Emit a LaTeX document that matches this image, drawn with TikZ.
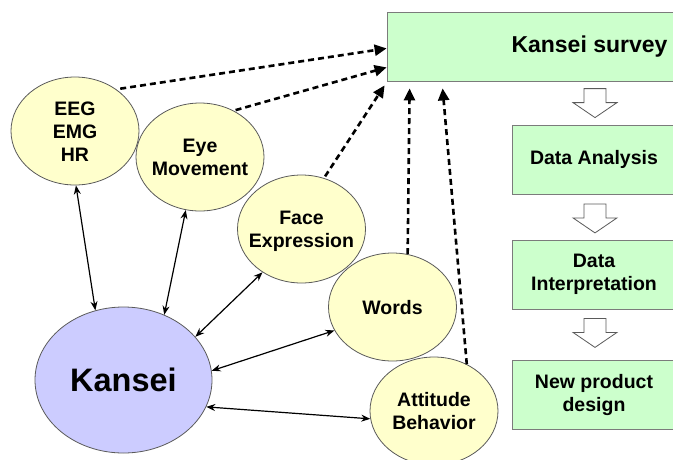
\documentclass[tikz,border=0pt]{standalone}
\usepackage{fontspec}
\setmainfont{Liberation Sans}
\usetikzlibrary{shapes.geometric,arrows.meta,calc}
\definecolor{bubble}{HTML}{FFFFCC}
\definecolor{kansei}{HTML}{CCCCFF}
\definecolor{boxgreen}{HTML}{CCFFCC}
\definecolor{edge}{HTML}{5A5A5A}
\newcommand{\btext}[1]{\makebox[0pt][c]{\raisebox{-2.5pt}[\height][\depth]{\begin{tabular}{@{}c@{}}#1\end{tabular}}}}
\begin{document}
\begin{tikzpicture}[x=1pt,y=-1pt,
  bubblenode/.style={ellipse, draw=edge, line width=0.8pt, fill=bubble, minimum width=128pt, minimum height=108pt, inner sep=0pt, font=\fontsize{19.5}{23}\bfseries},
  kanseinode/.style={ellipse, draw=edge, line width=0.8pt, fill=kansei, minimum width=177pt, minimum height=146pt, inner sep=0pt, font=\fontsize{32.5}{36}\bfseries},
  stagebox/.style={rectangle, draw=edge!80, line width=0.8pt, fill=boxgreen, minimum width=164pt, minimum height=69pt, inner sep=0pt, align=center, font=\fontsize{19.5}{23}\bfseries},
  twoway/.style={{Stealth[length=9pt,width=7pt]}-{Stealth[length=9pt,width=7pt]}, line width=1.2pt},
  survey/.style={-{Triangle[length=12pt,width=11pt]}, line width=2.6pt, dash pattern=on 6pt off 4pt},
  hollow/.style={draw=edge, line width=0.8pt, fill=white, line join=miter}
]
\useasboundingbox (0,0) rectangle (673,459);
\clip (0,0) rectangle (673,459);

% right column boxes
\node[stagebox, minimum width=405pt, font=\fontsize{23}{26}\bfseries] (survey) at (589.5,46.5) {Kansei survey};
\node[stagebox] (analysis) at (594,159.5) {Data Analysis};
\node[stagebox] (interp) at (594,274.5) {Data\\Interpretation};
\node[stagebox] (newp) at (594,395) {New product\\design};

% hollow arrows between stages
\newcommand{\harrow}[1]{\path[hollow] ($(#1)+(-11,0)$) -- ++(22,0) -- ++(0,14) -- ++(11,0) -- ++(-22,15) -- ++(-22,-15) -- ++(11,0) -- cycle;}
\coordinate (h1) at ($(analysis.north)+(1,-36)$);
\coordinate (h2) at ($(analysis.south)+(1,9.5)$);
\coordinate (h3) at ($(interp.south)+(1,9)$);
\harrow{h1}
\harrow{h2}
\harrow{h3}

% ellipses
\node[bubblenode] (eeg) at (75,131) {\btext{EEG\\EMG\\HR}};
\node[bubblenode] (eye) at (200,157) {\btext{Eye\\Movement}};
\node[bubblenode] (face) at (301.5,229) {\btext{Face\\Expression}};
\node[bubblenode] (words) at (392.5,307) {\btext{Words}};
\node[bubblenode] (att) at (434,411) {\btext{Attitude\\Behavior}};
\node[kanseinode] (k) at (123.5,380) {\makebox[0pt][c]{Kansei}};

% two-way arrows
\draw[twoway] (eeg.-89) -- (k.112);
\draw[twoway] (eye.-105) -- (k.58);
\draw[twoway] (face.-132) -- (k.31);
\draw[twoway] (words.-158) -- (k.6);
\draw[twoway] (att.-173) -- (k.-18);

% dashed arrows to survey
\coordinate (s1) at ($(survey.south west)+(0,-33)$);
\coordinate (s2) at ($(survey.south west)+(0,-14)$);
\coordinate (s3) at ($(survey.south west)+(-2,4)$);
\coordinate (s4) at ($(survey.south west)+(23,7)$);
\coordinate (s5) at ($(survey.south west)+(56,7)$);
\draw[survey] ($(eeg.43)+(2,-2)$) -- (s1);
\draw[survey] ($(eye.53)+(1,-1)$) -- (s2);
\draw[survey] ($(face.65)+(0,-2)$) -- (s3);
\draw[survey] (words.74) -- (s4);
\draw[survey] (att.55) -- (s5);
\end{tikzpicture}
\end{document}
